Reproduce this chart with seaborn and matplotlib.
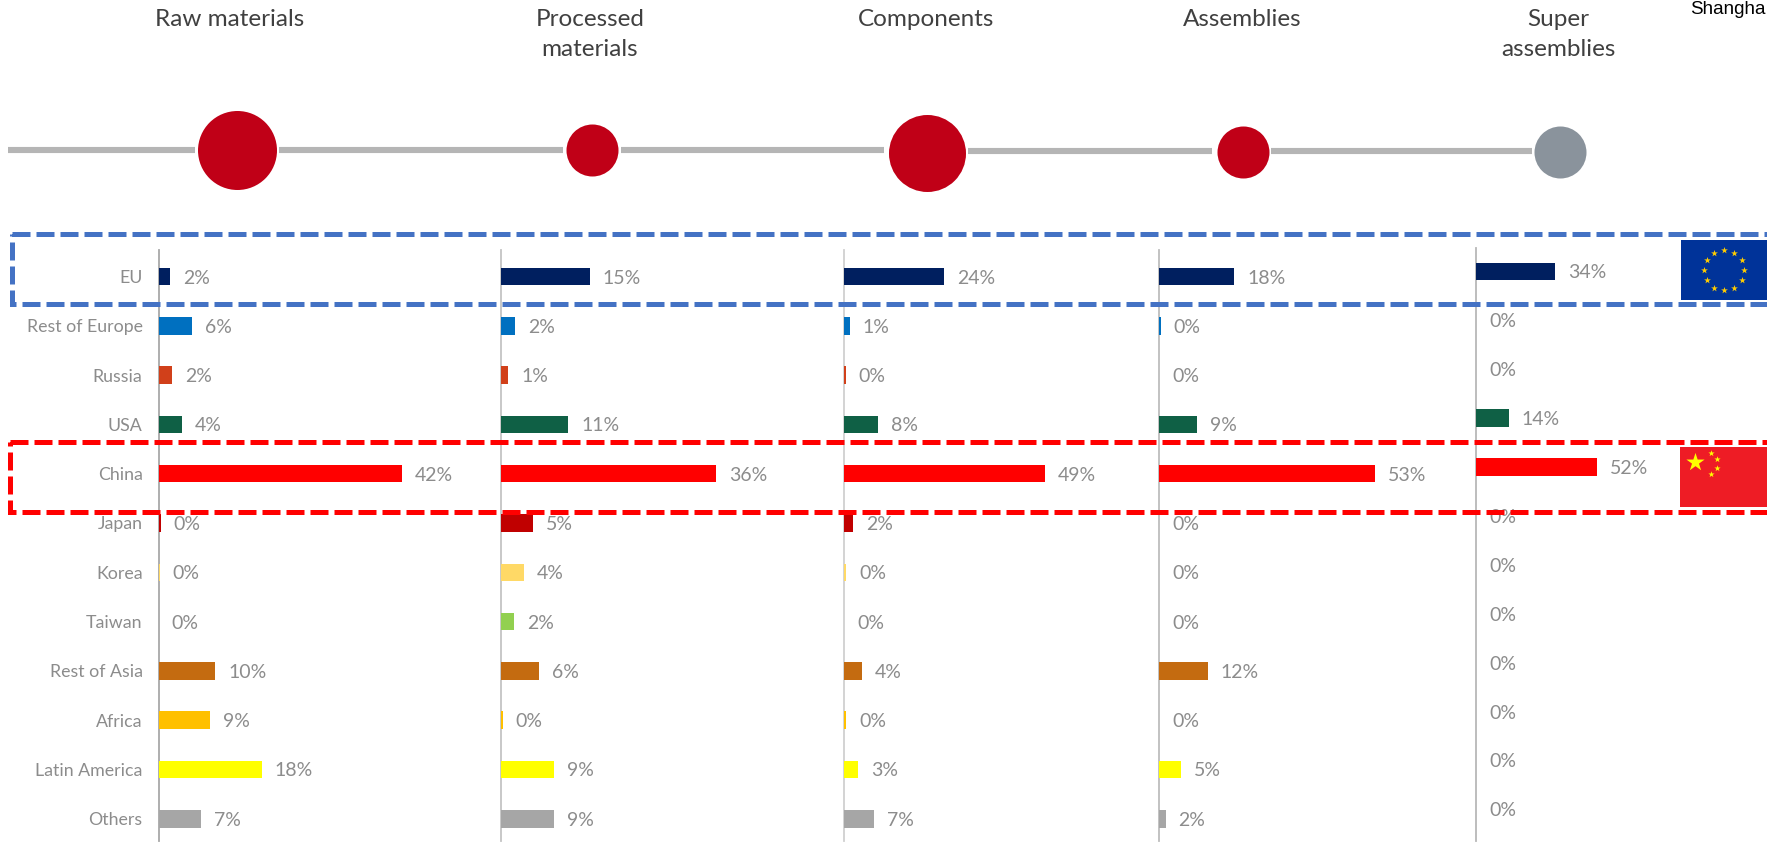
import matplotlib
matplotlib.use("Agg")
import matplotlib.pyplot as plt
from matplotlib.patches import Rectangle
import pandas as pd
import seaborn as sns

W, H = 1767, 842

regions = ["EU", "Rest of Europe", "Russia", "USA", "China", "Japan", "Korea",
           "Taiwan", "Rest of Asia", "Africa", "Latin America", "Others"]
region_colors = ["#001f5f", "#0070c0", "#d1401a", "#0f6045", "#ff0000", "#c00000",
                 "#ffd966", "#92d050", "#c46b10", "#ffc000", "#ffff00", "#a6a6a6"]

raw_materials = [2, 5.8, 2.4, 4, 42, 0.4, 0.2, 0, 9.8, 8.8, 17.8, 7.4]
processed_materials = [15, 2.4, 1.2, 11.4, 36.4, 5.4, 3.9, 2.2, 6.4, 0.3, 9, 9]
components = [24.4, 1.4, 0.4, 8.4, 49, 2.2, 0.5, 0, 4.4, 0.5, 3.4, 7.4]
assemblies = [18.4, 0.4, 0, 9.4, 53, 0, 0, 0, 12, 0, 5.4, 1.6]
super_assemblies = [34, 0, 0, 14, 52, 0, 0, 0, 0, 0, 0, 0]

stage_names = ["Raw materials", "Processed\nmaterials", "Components", "Assemblies", "Super\nassemblies"]
stage_values = [raw_materials, processed_materials, components, assemblies, super_assemblies]
stage_circle_px = [79, 52, 77, 52, 52]
stage_circle_colors = ["#c00017", "#c00017", "#c00017", "#c00017", "#8a939c"]

# layout in pixels: axis x, px per percent, first row y, row step, top of axis
axis_x = [158.5, 501, 844, 1159, 1476]
px_per_pct = [5.8, 5.9, 4.1, 4.08, 2.33]
row0 = [276.5, 276.5, 276.5, 276.5, 271.5]
row_step = [49.3, 49.3, 49.3, 49.3, 48.9]
axis_top = [250, 250, 250, 250, 248]
axis_bottom = 841
axis_colors = ["#a8a8a8", "#c4c4c4", "#d0d0d0", "#bdbdbd", "#b8b8b8"]
circle_x = [237, 592, 927, 1243, 1560]
circle_y = [150, 150, 153, 152, 152]
title_x = [230, 590, 926, 1242, 1558]

sns.set_theme(style="white")
FONT = "Lato"
plt.rcParams["font.family"] = [FONT, "DejaVu Sans"]
GREY = "#8c8c8c"

fig = plt.figure(figsize=(W / 100, H / 100), dpi=100, facecolor="white")

for i, values in enumerate(stage_values):
    x0 = axis_x[i]
    width_px = 330 if i < 4 else 200
    ax = fig.add_axes([x0 / W, 1 - axis_bottom / H, width_px / W, (axis_bottom - axis_top[i]) / H])
    ax.patch.set_alpha(0)
    df = pd.DataFrame({"region": regions, "share": values})
    sns.barplot(data=df, y="region", x="share", hue="region", palette=region_colors,
                order=regions, hue_order=regions, orient="h", dodge=False, legend=False,
                width=17.5 / row_step[i], saturation=1, linewidth=0, ax=ax)
    ax.set_xlim(0, width_px / px_per_pct[i])
    ax.set_ylim((axis_bottom - row0[i]) / row_step[i], (axis_top[i] - row0[i]) / row_step[i])
    ax.set_xlabel("")
    ax.set_ylabel("")
    ax.set_xticks([])
    for s in ["top", "right", "bottom"]:
        ax.spines[s].set_visible(False)
    ax.spines["left"].set_color(axis_colors[i])
    ax.spines["left"].set_linewidth(1.3)
    ax.spines["left"].set_zorder(0.5)
    ax.grid(False)
    if i == 0:
        ax.set_yticks(range(len(regions)))
        ax.set_yticklabels(regions, fontsize=12.8, color=GREY)
        ax.tick_params(axis="y", length=0, pad=11.5)
    else:
        ax.set_yticks([])
    for r, v in enumerate(values):
        ax.annotate(f"{round(v)}%", xy=(v, r), xytext=(13, -1.5), textcoords="offset pixels",
                    ha="left", va="center", fontsize=14, color=GREY)

# overlay in pixel coordinates
ov = fig.add_axes([0, 0, 1, 1], zorder=10)
ov.set_xlim(0, W)
ov.set_ylim(H, 0)
ov.axis("off")
ov.patch.set_alpha(0)

# timeline
segments = [(8, 195, 150), (279, 563, 150), (621, 884, 150), (968, 1212, 151), (1271, 1532, 151)]
for a, b, y in segments:
    ov.plot([a, b], [y, y], color="#b5b5b5", lw=4.4, solid_capstyle="butt")
for cx, cy, d, c in zip(circle_x, circle_y, stage_circle_px, stage_circle_colors):
    ov.scatter([cx], [cy], s=(d * 0.72) ** 2, color=c, linewidths=0, zorder=3)

# stage titles
for tx, name in zip(title_x, stage_names):
    for k, line in enumerate(name.split("\n")):
        ov.text(tx, 20 + k * 30, line, ha="center", va="center", fontsize=17.5,
                color="#404040")

ov.text(1690, 10, "Shangha", ha="left", va="center", fontsize=13.5, color="black",
        family="Liberation Sans", clip_on=True)

# dashed highlight boxes
dash = (0, (3.6, 1.2))
ov.add_patch(Rectangle((11.5, 234), 1800, 70, fill=False, ec="#4472c4", lw=3.6, ls=dash))
ov.add_patch(Rectangle((9.5, 442), 1800, 70, fill=False, ec="#ff0000", lw=3.6, ls=dash))

# EU flag
ov.add_patch(Rectangle((1681, 240), 90, 60, fc="#003399", ec="none", zorder=4))
eu_x = [1724, 1734, 1741.5, 1744, 1741.5, 1734, 1724, 1714, 1706.5, 1704, 1706.5, 1714]
eu_y = [250, 252.5, 260, 270, 280, 287.5, 290, 287.5, 280, 270, 260, 252.5]
ov.scatter(eu_x, eu_y, marker="*", s=26, color="#ffcc00", linewidths=0, zorder=5)

# China flag
ov.add_patch(Rectangle((1680, 447), 90, 60, fc="#ee1c25", ec="none", zorder=4))
ov.scatter([1695], [462], marker="*", s=190, color="#ffff00", linewidths=0, zorder=5)
ov.scatter([1711, 1717, 1717, 1711], [453, 459, 468, 474], marker="*", s=22,
           color="#ffff00", linewidths=0, zorder=5)

fig.savefig("out.png", dpi=100, facecolor="white")
